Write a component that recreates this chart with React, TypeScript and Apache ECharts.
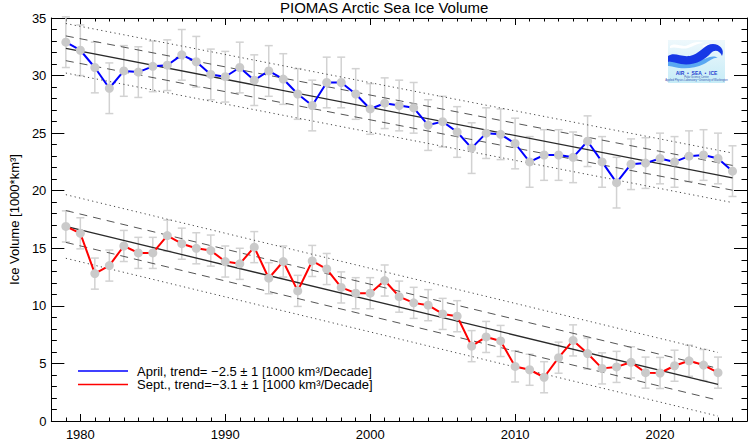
import { useEffect, useRef } from "react";
import * as echarts from "echarts";

// PIOMAS April / September ice volume, 1000 km^3
const firstYear = 1979;
const aprilVolume = [
  32.9, 32.2, 30.7, 28.9, 30.4, 30.3, 30.8, 30.9, 31.8, 31.2,
  30.1, 29.9, 30.7, 29.6, 30.4, 29.7, 28.4, 27.4, 29.4, 29.4,
  28.4, 27.1, 27.6, 27.4, 27.2, 25.7, 26.0, 25.1, 23.7, 25.0,
  24.9, 24.1, 22.5, 23.1, 23.1, 22.9, 24.3, 22.5, 20.7, 22.3,
  22.4, 22.8, 22.5, 23.0, 23.1, 22.8, 21.7,
];
const septVolume = [
  16.9, 16.3, 12.8, 13.5, 15.2, 14.6, 14.6, 16.1, 15.4, 15.0,
  14.8, 13.85, 13.65, 15.1, 12.4, 13.85, 11.3, 13.9, 13.2, 11.6,
  11.1, 11.1, 12.2, 10.8, 10.26, 10.06, 9.3, 9.1, 6.5, 7.3,
  6.95, 4.74, 4.45, 3.8, 5.5, 7.0, 5.86, 4.57, 4.7, 5.1,
  4.2, 4.17, 4.8, 5.23, 4.86, 4.2,
];
const aprilError = 2.2;
const septError = 1.35;

const majorYears = [1980, 1990, 2000, 2010, 2020];
const legendLabels = [
  "April, trend= \u22122.5 \u00b1 1 [1000 km\u00b3/Decade]",
  "Sept., trend=\u22123.1 \u00b1 1 [1000 km\u00b3/Decade]",
];
const titleText = "PIOMAS Arctic Sea Ice Volume";
const yName = "Ice Volume [1000*km\u00b3]";

const FONT = "Liberation Sans, Arial, Helvetica, sans-serif";

echarts.graphic.registerShape(
  "psWave",
  echarts.graphic.extendPath(
    "M0,16 C7,11 15,19 25,15 C33,12 37,4 45,4 C52,4 57,10 54,16 C52,11 47,9 43,13 C37,20 26,26 13,24 C7,23 3,21 0,22 Z",
    {}
  )
);
echarts.graphic.registerShape(
  "psWave2",
  echarts.graphic.extendPath(
    "M0,22 C8,19 16,26 28,22 C38,19 44,14 50,18 C46,17 42,21 36,24 C26,29 14,29 6,27 C3,26 1,26 0,26 Z",
    {}
  )
);
echarts.graphic.registerShape(
  "psSwirl",
  echarts.graphic.extendPath(
    "M2,6 C8,2 14,8 20,5 C26,2 30,1 36,3 C30,3 26,6 20,8 C14,10 8,6 2,8 Z M34,6 C40,3 46,3 52,6 C47,5 42,7 38,9 Z",
    {}
  )
);

function fit(xs: number[], ys: number[]) {
  const n = xs.length;
  const mx = xs.reduce((s, v) => s + v, 0) / n;
  const my = ys.reduce((s, v) => s + v, 0) / n;
  let sxx = 0;
  let sxy = 0;
  xs.forEach((x, i) => {
    sxx += (x - mx) * (x - mx);
    sxy += (x - mx) * (ys[i] - my);
  });
  const b = sxy / sxx;
  const a = my - b * mx;
  let ss = 0;
  xs.forEach((x, i) => {
    const r = ys[i] - (a + b * x);
    ss += r * r;
  });
  return { a, b, sd: Math.sqrt(ss / (n - 2)) };
}

const App = () => {
  const chartRef = useRef<HTMLDivElement>(null);

  useEffect(() => {
    if (!chartRef.current) return;
    const chart = echarts.init(chartRef.current, undefined, { renderer: "svg" });

    const aprilYears = aprilVolume.map((_, i) => firstYear + i);
    const septYears = septVolume.map((_, i) => firstYear + i);

    const trendSeries = (years: number[], vals: number[]) => {
      const { a, b, sd } = fit(years, vals);
      const x0 = years[0];
      const x1 = years[years.length - 1];
      const mk = (off: number, type: any, color: string, width: number) => ({
        type: "line",
        data: [
          [x0, a + b * x0 + off],
          [x1, a + b * x1 + off],
        ],
        symbol: "none",
        silent: true,
        z: 2,
        lineStyle: { color, width, type },
      });
      return [
        mk(0, "solid", "#2a2a2a", 1.3),
        mk(sd, [8, 6], "#555", 1),
        mk(-sd, [8, 6], "#555", 1),
        mk(2 * sd, [1.2, 3.3], "#444", 1),
        mk(-2 * sd, [1.2, 3.3], "#444", 1),
      ];
    };

    const errorSeries = (years: number[], vals: number[], err: number) => ({
      type: "custom",
      z: 1,
      silent: true,
      data: years.map((y, i) => [y, vals[i] - err, vals[i] + err]),
      encode: { x: 0, y: [1, 2] },
      renderItem: (_params: any, api: any) => {
        const x = api.value(0);
        const lo = api.coord([x, api.value(1)]);
        const hi = api.coord([x, api.value(2)]);
        const w = 4;
        const style = { stroke: "#d2d2d2", lineWidth: 1.5 };
        return {
          type: "group",
          children: [
            { type: "line", shape: { x1: lo[0], y1: lo[1], x2: hi[0], y2: hi[1] }, style },
            { type: "line", shape: { x1: lo[0] - w, y1: lo[1], x2: lo[0] + w, y2: lo[1] }, style },
            { type: "line", shape: { x1: hi[0] - w, y1: hi[1], x2: hi[0] + w, y2: hi[1] }, style },
          ],
        };
      },
    });

    const dataSeries = (years: number[], vals: number[], color: string) => ({
      type: "line",
      z: 3,
      data: years.map((y, i) => [y, vals[i]]),
      symbol: "circle",
      symbolSize: 9,
      lineStyle: { color, width: 2 },
      itemStyle: { color: "#cacaca", borderWidth: 0 },
    });

    const axisLine = { show: true, lineStyle: { color: "#000", width: 1 } };
    const baseX = {
      type: "value",
      min: 1978,
      max: 2026,
      splitLine: { show: false },
      axisLine,
    };
    const minorX = (position: string) => ({
      ...baseX,
      position,
      interval: 1,
      axisTick: { inside: true, length: 3.5, lineStyle: { color: "#000" } },
      axisLabel: { show: false },
    });
    const majorX = (position: string, labels: boolean) => ({
      ...baseX,
      position,
      axisTick: {
        inside: true,
        length: 7,
        customValues: majorYears,
        lineStyle: { color: "#000" },
      },
      axisLabel: labels
        ? {
            show: true,
            customValues: majorYears,
            formatter: (v: number) => String(v),
            fontSize: 13,
            color: "#000",
            fontFamily: FONT,
            margin: 7,
          }
        : { show: false },
    });
    const baseY = (position: string, labels: boolean) => ({
      type: "value",
      position,
      min: 0,
      max: 35,
      interval: 5,
      splitLine: { show: false },
      axisLine,
      axisTick: { inside: true, length: 13, lineStyle: { color: "#000" } },
      minorTick: { show: true, splitNumber: 5, length: 5.5, lineStyle: { color: "#000" } },
      axisLabel: labels
        ? { fontSize: 13, color: "#000", fontFamily: FONT, margin: 5 }
        : { show: false },
      name: labels ? yName : "",
      nameLocation: "middle",
      nameGap: 27,
      nameRotate: 90,
      nameTextStyle: { fontSize: 13, color: "#000", fontFamily: FONT },
    });

    const legendGraphics = legendLabels.flatMap((label, i) => {
      const y = 371 + i * 13.5;
      return [
        {
          type: "line",
          shape: { x1: 78, y1: y, x2: 128, y2: y },
          style: { stroke: i === 0 ? "#0000ff" : "#ff0000", lineWidth: 1.5 },
        },
        {
          type: "text",
          x: 137,
          y,
          style: {
            text: label,
            fill: "#000",
            fontSize: 13,
            lineHeight: 13,
            fontFamily: FONT,
            verticalAlign: "middle",
          },
        },
      ];
    });

    const logo = {
      type: "group",
      x: 668,
      y: 40,
      children: [
        {
          type: "rect",
          shape: { x: 0, y: 0, width: 57, height: 43 },
          style: {
            fill: new echarts.graphic.LinearGradient(0, 0, 0, 1, [
              { offset: 0, color: "#eef8fc" },
              { offset: 1, color: "#c6ecf7" },
            ]),
          },
        },
        { type: "psSwirl", style: { fill: "#ffffff" } },
        { type: "psWave2", style: { fill: "#5aa8f2" } },
        { type: "psWave", style: { fill: "#1638e6" } },
        {
          type: "text",
          x: 28.5,
          y: 33,
          style: {
            text: "AIR  \u2022  SEA  \u2022  ICE",
            fill: "#1f3fd0",
            fontSize: 5,
            fontWeight: "bold",
            fontFamily: FONT,
            align: "center",
            verticalAlign: "middle",
          },
        },
        {
          type: "text",
          x: 28.5,
          y: 37.5,
          style: {
            text: "Polar Science Center",
            fill: "#3050b0",
            fontSize: 2.6,
            fontFamily: FONT,
            align: "center",
            verticalAlign: "middle",
          },
        },
        {
          type: "text",
          x: 28.5,
          y: 40.5,
          style: {
            text: "Applied Physics Laboratory \u2022 University of Washington",
            fill: "#3050b0",
            fontSize: 2.6,
            fontFamily: FONT,
            align: "center",
            verticalAlign: "middle",
          },
        },
      ],
    };

    const option: any = {
      animation: false,
      backgroundColor: "#fff",
      textStyle: { fontFamily: FONT },
      title: {
        text: titleText,
        left: 280,
        top: 0,
        padding: 0,
        textStyle: { fontSize: 15, fontWeight: "normal", color: "#000", fontFamily: FONT },
      },
      grid: { left: 40.5, right: 3, top: 18, bottom: 17.5 },
      xAxis: [minorX("bottom"), majorX("bottom", true), minorX("top"), majorX("top", false)],
      yAxis: [baseY("left", true), baseY("right", false)],
      series: [
        errorSeries(aprilYears, aprilVolume, aprilError),
        errorSeries(septYears, septVolume, septError),
        ...trendSeries(aprilYears, aprilVolume),
        ...trendSeries(septYears, septVolume),
        dataSeries(aprilYears, aprilVolume, "#0000ff"),
        dataSeries(septYears, septVolume, "#ff0000"),
      ],
      graphic: [...legendGraphics, logo],
    };

    chart.setOption(option);
    return () => chart.dispose();
  }, []);

  return (
    <div
      ref={chartRef}
      style={{ position: "absolute", left: 0, top: 0, width: 750, height: 441 }}
    />
  );
};

export default App;
